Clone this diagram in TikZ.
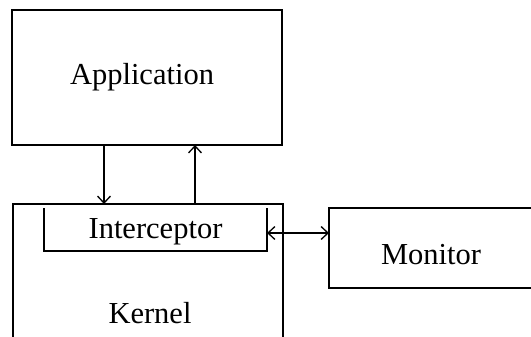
\documentclass[tikz,border=0pt]{standalone}
\usepackage{fontspec}
\setmainfont{Liberation Serif}
\usetikzlibrary{arrows.meta}
\begin{document}
\begin{tikzpicture}[x=1pt,y=-1pt,
  lw/.style={line width=1.4pt},
  lbl/.style={font=\fontsize{30.5}{36}\selectfont,anchor=base,inner sep=0pt},
  tip/.style={Straight Barb[length=7pt,width=13pt,line width=1.3pt]},
  arr/.style={lw,-{Straight Barb[length=7pt,width=13pt,line width=1.3pt]}},
  darr/.style={lw,{Straight Barb[length=7pt,width=13pt,line width=1.3pt]}-{Straight Barb[length=7pt,width=13pt,line width=1.3pt]}}]
\useasboundingbox (0,0) rectangle (531,337);
\clip (0,0) rectangle (531,337);
% boxes
\node[draw,lw,minimum width=270pt,minimum height=135pt,inner sep=0pt,outer sep=0pt,anchor=north west] (app) at (12,10) {};
\node[minimum width=270pt,minimum height=150pt,inner sep=0pt,outer sep=0pt,anchor=north west] (kern) at (13,204) {};
\draw[lw] (kern.south west) -- (kern.north west) -- (kern.north east) -- (kern.south east);
\node[minimum width=223pt,minimum height=43pt,inner sep=0pt,outer sep=0pt,anchor=north west] (icpt) at (44,208) {};
\draw[lw] (icpt.north west) -- (icpt.south west) -- (icpt.south east) -- (icpt.north east);
\node[draw,lw,minimum width=220pt,minimum height=80pt,inner sep=0pt,outer sep=0pt,anchor=north west] (mon) at (329,208) {};
% labels
\node[lbl] (tapp) at (142,85) {Application};
\node[lbl] (ticpt) at (155.5,238) {Interceptor};
\node[lbl] (tkern) at (150,323) {Kernel};
\node[lbl] (tmon) at (431,264) {Monitor};
% connectors
\coordinate (a1) at (app.south west -| 104,0);
\coordinate (k1) at (kern.north west -| 104,0);
\coordinate (a2) at (app.south west -| 195,0);
\coordinate (k2) at (kern.north west -| 195,0);
\draw[arr] (a1) -- (k1);
\draw[arr] (k2) -- (a2);
\draw[darr] (icpt.east |- 0,233) -- (mon.west |- 0,233);
\end{tikzpicture}
\end{document}
